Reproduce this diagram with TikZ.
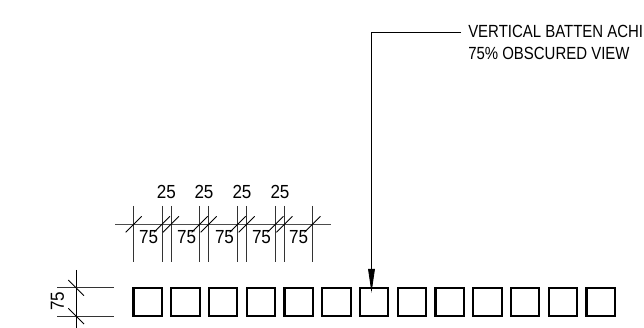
\documentclass[tikz,border=0pt]{standalone}
\usepackage{fontspec}
\setmainfont{Liberation Sans}
\newfontfamily\dimfont[FakeStretch=0.9]{Liberation Sans}
\newfontfamily\notefont[FakeStretch=0.85]{Liberation Sans}
\usetikzlibrary{arrows.meta}
\begin{document}
\begin{tikzpicture}[x=0.75pt,y=-0.75pt,
  batten/.style={draw=black,line width=1.6pt,minimum size=21.3pt,inner sep=0pt,outer sep=0pt},
  dimline/.style={draw=black!70,line width=0.75pt},
  extline/.style={draw=black!80,line width=0.65pt},
  tick/.style={draw=black,line width=0.6pt},
  dimtext/.style={font=\dimfont\fontsize{14.2pt}{15pt}\selectfont,inner sep=0pt},
  notetext/.style={font=\notefont\fontsize{13.2pt}{16.8pt}\selectfont,inner sep=0pt,align=left,anchor=base west},
  leader/.style={draw=black,line width=0.65pt,-{Triangle[length=17.8pt,width=5pt]}}]
\useasboundingbox (0,0) rectangle (644,328);
\clip (0,0) rectangle (644,328);
% battens
\foreach \i in {0,...,12}{
  \node[batten] (b\i) at ({147.7+37.75*\i},302) {};
}
% note and leader
\node[notetext] (note) at (468,60) {VERTICAL BATTEN ACHI\\75\% OBSCURED VIEW};
\coordinate (ls) at (461,32);
\coordinate (le) at (371.5,32);
\coordinate (lt) at (371.5,292.7);
\draw[leader] (ls) -- (le) -- (lt);
% horizontal dimension
\coordinate (ha) at (115,224.5);
\coordinate (hb) at (331,224.5);
\draw[dimline] (ha) -- (hb);
\foreach \n/\x in {0/133.7,1/162,2/171,3/199.7,4/208.7,5/237.7,6/246.7,7/275.5,8/284.5,9/312.5}{
  \coordinate (et\n) at (\x,206);
  \coordinate (eb\n) at (\x,262.3);
  \draw[extline] (et\n) -- (eb\n);
  \coordinate (ta\n) at ({\x-8},232.3);
  \coordinate (tb\n) at ({\x+8},216.3);
  \draw[tick] (ta\n) -- (tb\n);
}
\foreach \n/\x in {a/166.3,b/204,c/242,d/280}{
  \node[dimtext] (t\n) at (\x,192) {25};
}
\foreach \n/\x in {a/148.7,b/186.7,c/224.5,d/261.5,e/298.7}{
  \node[dimtext] (s\n) at (\x,237) {75};
}
% vertical dimension
\coordinate (va) at (76,270);
\coordinate (vb) at (76,328);
\draw[extline,draw=black] (va) -- (vb);
\coordinate (xa1) at (57.3,287.7);
\coordinate (xa2) at (114,287.7);
\coordinate (xb1) at (57.3,316);
\coordinate (xb2) at (114,316);
\draw[extline] (xa1) -- (xa2);
\draw[extline] (xb1) -- (xb2);
\coordinate (v1a) at (68.3,280);
\coordinate (v1b) at (84,295.7);
\coordinate (v2a) at (68.3,308.3);
\coordinate (v2b) at (84,324);
\draw[tick] (v1a) -- (v1b);
\draw[tick] (v2a) -- (v2b);
\node[dimtext,rotate=90] (vt) at (57.5,301) {75};
\end{tikzpicture}
\end{document}
